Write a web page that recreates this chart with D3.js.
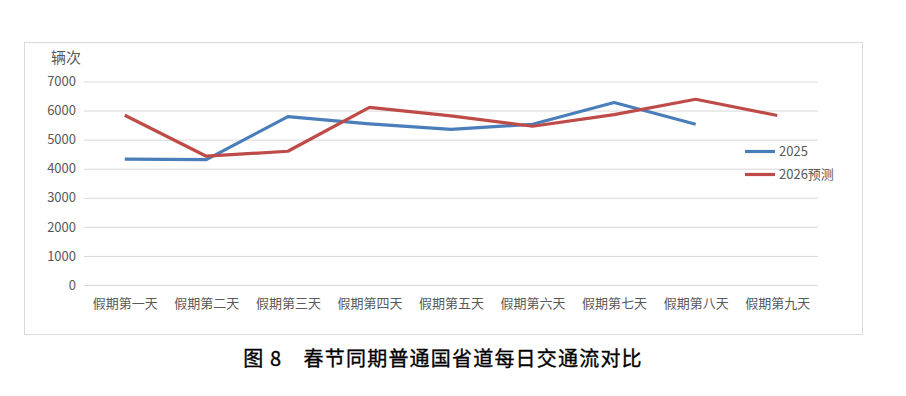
<!DOCTYPE html>
<html>
<head>
<meta charset="utf-8">
<script src="https://cdn.jsdelivr.net/npm/d3@7"></script>
<style>
  body { margin: 0; background: #fff; }
  svg text { font-family: "Noto Sans CJK SC", "Noto Sans", sans-serif; }
</style>
</head>
<body>
<div id="chart"></div>
<script>
const days = ["假期第一天", "假期第二天", "假期第三天", "假期第四天", "假期第五天",
              "假期第六天", "假期第七天", "假期第八天", "假期第九天"];
const values2025 = [4330, 4310, 5790, 5540, 5350, 5530, 6280, 5530];
const values2026 = [5840, 4430, 4600, 6110, 5820, 5460, 5860, 6390, 5830];
const yTicks = [0, 1000, 2000, 3000, 4000, 5000, 6000, 7000];
const seriesNames = ["2025", "2026预测"];
const seriesColors = ["#4a7ebb", "#be4b48"];

const width = 906;
const height = 396;

const svg = d3.select('#chart')
    .append('svg')
    .attr('width', width)
    .attr('height', height);

// chart frame
svg.append('rect')
    .attr('x', 24.5).attr('y', 42.5)
    .attr('width', 838).attr('height', 292)
    .attr('fill', 'none')
    .attr('stroke', '#d9d9d9');

const xScale = d3.scalePoint()
    .domain(days)
    .range([84, 818])
    .padding(0.5);

const yScale = d3.scaleLinear()
    .domain([0, 7000])
    .range([285, 81.5]);

// gridlines
svg.append('g')
    .attr('transform', 'translate(818, 0)')
    .call(d3.axisLeft(yScale).tickValues(yTicks).tickSize(734).tickFormat(''))
    .call(g => g.select('.domain').remove())
    .call(g => g.selectAll('line').attr('stroke', '#d9d9d9'));

// y labels
svg.append('g')
    .attr('transform', 'translate(84, 0)')
    .call(d3.axisLeft(yScale).tickValues(yTicks).tickSize(0).tickPadding(8).tickFormat(d3.format("d")))
    .call(g => g.select('.domain').remove())
    .call(g => g.selectAll('text')
        .attr('fill', '#595959')
        .attr('font-size', 13));

// x labels
svg.append('g')
    .attr('transform', 'translate(0, 285)')
    .call(d3.axisBottom(xScale).tickSize(0).tickPadding(14))
    .call(g => g.select('.domain').remove())
    .call(g => g.selectAll('text')
        .attr('fill', '#595959')
        .attr('font-size', 13));

// unit label
svg.append('text')
    .attr('x', 51)
    .attr('y', 63)
    .attr('fill', '#595959')
    .attr('font-size', 15)
    .text('辆次');

// lines
const line = d3.line()
    .x((d, i) => xScale(days[i]))
    .y(d => yScale(d));

[values2025, values2026].forEach((vals, k) => {
    svg.append('path')
        .datum(vals)
        .attr('d', line)
        .attr('fill', 'none')
        .attr('stroke', seriesColors[k])
        .attr('stroke-width', 3.2)
        .attr('stroke-linejoin', 'round');
});

// legend
seriesNames.forEach((name, k) => {
    const y = 151.5 + k * 23;
    svg.append('line')
        .attr('x1', 745).attr('x2', 775)
        .attr('y1', y).attr('y2', y)
        .attr('stroke', seriesColors[k])
        .attr('stroke-width', 3.2);
    svg.append('text')
        .attr('x', 779)
        .attr('y', y)
        .attr('dy', '0.35em')
        .attr('fill', '#595959')
        .attr('font-size', 13)
        .text(name);
});

// caption
svg.append('text')
    .attr('x', 443)
    .attr('y', 366)
    .attr('text-anchor', 'middle')
    .attr('fill', '#000')
    .attr('stroke', '#000')
    .attr('stroke-width', 0.35)
    .attr('font-size', 20)
    .attr('letter-spacing', 1.2)
    .attr('xml:space', 'preserve')
    .text('图 8　春节同期普通国省道每日交通流对比');
</script>
</body>
</html>
